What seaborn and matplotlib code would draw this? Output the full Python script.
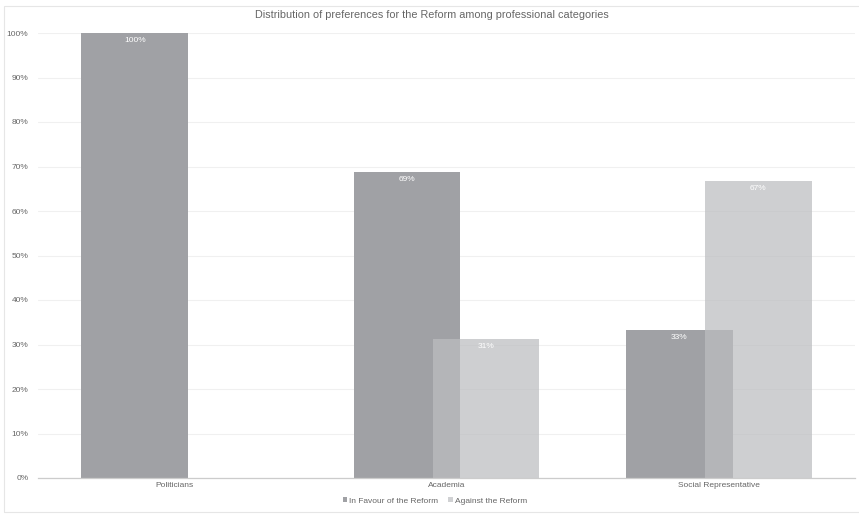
import matplotlib
matplotlib.use("Agg")
import matplotlib.pyplot as plt
import seaborn as sns
import pandas as pd
from matplotlib.patches import Rectangle, Patch

categories = ["Politicians", "Academia", "Social Representative"]
in_favour = [100.0, 68.8, 33.3]
against = [0.0, 31.2, 66.7]
series_names = ["In Favour of the Reform", "Against the Reform"]
yticks = list(range(0, 101, 10))
title = "Distribution of preferences for the Reform among professional categories"

DARK = "#a0a1a5"
LIGHT = "#bcbdc0"
LIGHT_ALPHA = 0.72
TXT = "#666666"

sns.set_theme(style="white")
plt.rcParams["font.family"] = ["Liberation Sans", "DejaVu Sans"]

fig = plt.figure(figsize=(8.59, 5.14), dpi=100)
ax = fig.add_axes([38/859, 1-478/514, (855-38)/859, (478-33)/514])

df_f = pd.DataFrame({"cat": categories, "val": in_favour})
df_a = pd.DataFrame({"cat": categories, "val": against})

W = 0.392
OFF = 0.145
sns.barplot(data=df_f, x="cat", y="val", order=categories, color=DARK,
            width=W, saturation=1, ax=ax, zorder=3)
n1 = len(ax.patches)
sns.barplot(data=df_a, x="cat", y="val", order=categories, color=LIGHT,
            width=W, saturation=1, alpha=LIGHT_ALPHA, ax=ax, zorder=4)
for i, p in enumerate(ax.patches):
    p.set_x(p.get_x() + (-OFF if i < n1 else OFF))
    p.set_linewidth(0)

for c in ax.containers:
    labels = [f"{v:.0f}%" if v > 0 else "" for v in c.datavalues]
    ax.bar_label(c, labels=labels, padding=-8, color="white", fontsize=6, zorder=6)

ax.set_xlim(-0.5, 2.5)
ax.set_ylim(0, 100)
ax.set_yticks(yticks)
ax.set_yticklabels([f"{t}%" for t in yticks])
ax.set_xlabel("")
ax.set_ylabel("")
ax.tick_params(axis="both", length=0, labelsize=6, colors=TXT)
ax.tick_params(axis="y", pad=7)
ax.tick_params(axis="x", pad=3)
ax.yaxis.grid(True, color="#f0f0f0", linewidth=0.8, zorder=0)
ax.set_axisbelow(True)
for s in ["left", "right", "top"]:
    ax.spines[s].set_visible(False)
ax.spines["bottom"].set_color("#cccccc")
ax.spines["bottom"].set_linewidth(0.9)
ax.spines["bottom"].set_zorder(5)

fig.text(432/859, 1-15/514, title, ha="center", va="center", fontsize=7.8, color=TXT)

handles = [Patch(facecolor=DARK, edgecolor="none"),
           Patch(facecolor="#d0d1d3", edgecolor="none")]
fig.legend(handles, series_names, loc="center", bbox_to_anchor=(435/859, 1-501/514),
           ncol=2, frameon=False, fontsize=6, labelcolor=TXT,
           handlelength=0.5, handleheight=0.5, handletextpad=0.3, columnspacing=1.2)

fig.patches.append(Rectangle((4/859, 1-512/514), 1.0, (512-6)/514,
                             transform=fig.transFigure, fill=False,
                             edgecolor="#e6e6e6", linewidth=0.8))

fig.savefig("out.png", dpi=100, facecolor="white")
